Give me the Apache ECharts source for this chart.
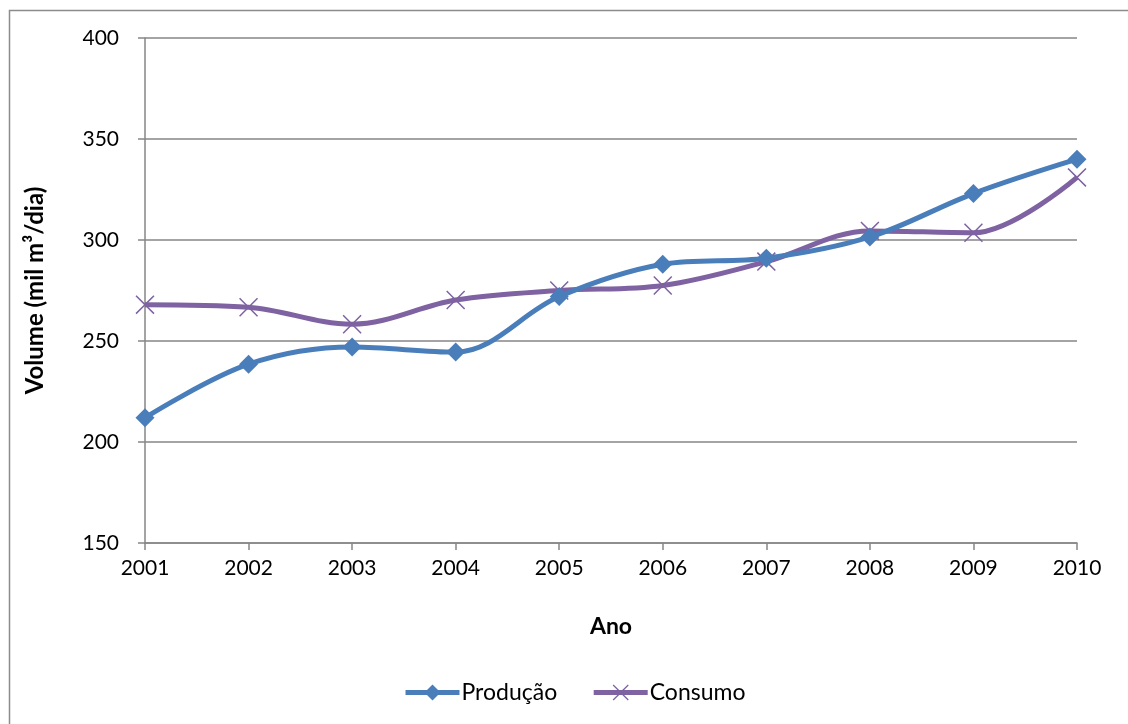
<!DOCTYPE html>
<html>
<head>
<meta charset="utf-8">
<script src="https://cdn.jsdelivr.net/npm/echarts@6/dist/echarts.min.js"></script>
<style>
  html, body { margin: 0; padding: 0; background: #fff; }
  #chart { width: 1128px; height: 724px; }
</style>
</head>
<body>
<div id="chart"></div>
<script>
// dados
const anos = ['2001', '2002', '2003', '2004', '2005', '2006', '2007', '2008', '2009', '2010']
const producao = [212, 238.5, 247, 244.5, 272, 288, 291, 301.5, 323, 340]
const consumo = [268, 266.7, 258.3, 270.3, 275, 277.5, 289.3, 304.5, 303.6, 331]

const FONT = 'Lato, "Open Sans", sans-serif'
const crossIcon = 'path://M0,1L1,0L9,8L17,0L18,1L10,9L18,17L17,18L9,10L1,18L0,17L8,9Z'

const myChart = echarts.init(document.getElementById('chart'))
const option = {
  animation: false,
  textStyle: { fontFamily: FONT },
  graphic: [
    {
      // borda da área do gráfico
      type: 'rect',
      left: 7,
      top: 8,
      shape: { width: 1200, height: 800 },
      style: { fill: 'none', stroke: '#8c8c8c', lineWidth: 1.5 },
      silent: true
    }
  ],
  grid: {
    left: 145,
    right: 51,
    top: 38,
    bottom: 181
  },
  legend: {
    left: 398,
    top: 676,
    itemWidth: 54,
    itemHeight: 20,
    itemGap: 34,
    textStyle: { fontSize: 23, color: '#000', fontFamily: FONT, padding: [0, 0, 0, -3] },
    data: [
      { name: 'Produção', lineStyle: { width: 5 } },
      { name: 'Consumo', lineStyle: { width: 5 } }
    ]
  },
  xAxis: {
    type: 'category',
    data: anos,
    boundaryGap: false,
    name: 'Ano',
    nameLocation: 'middle',
    nameGap: 72,
    nameTextStyle: { fontSize: 23, fontWeight: 'bold', color: '#000' },
    axisLine: { lineStyle: { color: '#868686', width: 1.5 } },
    axisTick: { show: true, length: 7, lineStyle: { color: '#868686', width: 1.5 } },
    axisLabel: { fontSize: 21, color: '#000', margin: 15 },
    splitLine: { show: false }
  },
  yAxis: {
    type: 'value',
    min: 150,
    max: 400,
    interval: 50,
    name: 'Volume (mil m³/dia)',
    nameLocation: 'middle',
    nameGap: 98,
    nameTextStyle: { fontSize: 24, fontWeight: 'bold', color: '#000' },
    axisLine: { show: true, lineStyle: { color: '#868686', width: 1.5 } },
    axisTick: { show: true, length: 7, lineStyle: { color: '#868686', width: 1.5 } },
    axisLabel: { fontSize: 21, color: '#000', margin: 26 },
    splitLine: { lineStyle: { color: '#868686', width: 1.5 } }
  },
  series: [
    {
      name: 'Produção',
      type: 'line',
      data: producao,
      smooth: 0.35,
      symbol: 'diamond',
      symbolSize: 19,
      lineStyle: { color: '#4a7ebb', width: 5 },
      itemStyle: { color: '#4a7ebb' },
      z: 3
    },
    {
      name: 'Consumo',
      type: 'line',
      data: consumo,
      smooth: 0.35,
      symbol: crossIcon,
      symbolSize: 19,
      lineStyle: { color: '#7e62a1', width: 5 },
      itemStyle: { color: '#7e62a1' },
      z: 2
    }
  ]
}
myChart.setOption(option)
</script>
</body>
</html>
